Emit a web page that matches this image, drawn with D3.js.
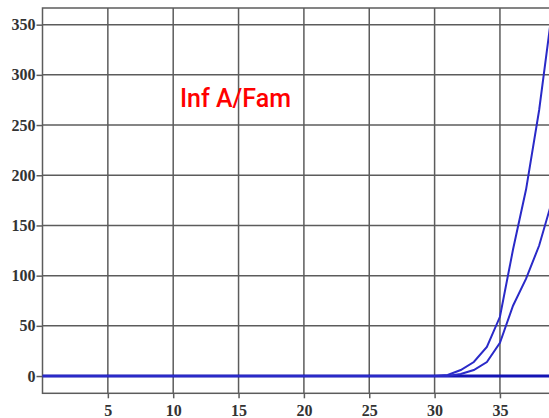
<!DOCTYPE html>
<html>
<head>
<meta charset="utf-8">
<script src="https://cdn.jsdelivr.net/npm/d3@7/dist/d3.min.js"></script>
<style>
  html, body { margin: 0; padding: 0; background: #fff; }
  svg { display: block; }
</style>
</head>
<body>
<div id="chart"></div>
<script>
// ---- data ----
const cycles = [0, 5, 10, 15, 20, 25, 30, 31, 32, 33, 34, 35, 36, 37, 38, 39, 40];
const seriesA = [0, 0, 0, 0, 0, 0, 0, 1, 6, 14, 29, 59, 126, 186, 265, 365, 470];
const seriesB = [0, 0, 0, 0, 0, 0, 0, 0, 2, 6, 14, 33, 70, 97, 130, 175, 225];
const baseline = [0, 0, 0, 0, 0, 0, 0, 0, 0, 0, 0, 0, 0, 0, 0, 0, 0];
const xTicks = [5, 10, 15, 20, 25, 30, 35];
const yTicks = [0, 50, 100, 150, 200, 250, 300, 350];
const titleText = "Inf A/Fam";

// ---- layout ----
const W = 549, H = 418;
const svg = d3.select("#chart").append("svg").attr("width", W).attr("height", H);

const x = d3.scaleLinear().domain([0, 40]).range([42.5, 565.3]);
const y = d3.scaleLinear().domain([-17.2, 366.6]).range([393.3, 8]);

const pL = x(0), pR = x(40), pT = y(366.6), pB = y(-17.2);
const gridColor = "#5c5c5c";

// clip
svg.append("defs").append("clipPath").attr("id", "clip")
  .append("rect").attr("x", pL).attr("y", pT).attr("width", pR - pL).attr("height", pB - pT);

// grid
const grid = svg.append("g");
grid.selectAll("line.h").data(yTicks).join("line")
  .attr("x1", pL).attr("x2", pR)
  .attr("y1", d => y(d)).attr("y2", d => y(d))
  .attr("stroke", gridColor).attr("stroke-width", 1.5);
grid.selectAll("line.v").data(xTicks).join("line")
  .attr("x1", d => x(d)).attr("x2", d => x(d))
  .attr("y1", pT).attr("y2", pB)
  .attr("stroke", gridColor).attr("stroke-width", 1.5);
// frame
svg.append("rect").attr("x", pL).attr("y", pT).attr("width", pR - pL).attr("height", pB - pT)
  .attr("fill", "none").attr("stroke", gridColor).attr("stroke-width", 1.5);

// axes
const yAxis = svg.append("g").attr("transform", `translate(${pL},0)`)
  .call(d3.axisLeft(y).tickValues(yTicks).tickSize(6).tickPadding(1).tickFormat(d3.format("d")));
const xAxis = svg.append("g").attr("transform", `translate(0,${pB})`)
  .call(d3.axisBottom(x).tickValues(xTicks).tickSize(5).tickPadding(6).tickFormat(d3.format("d")));
[yAxis, xAxis].forEach(a => {
  a.attr("font-family", "'Liberation Serif', 'DejaVu Serif', serif").attr("font-size", 16);
  a.select(".domain").remove();
  a.selectAll(".tick line").attr("stroke", gridColor).attr("stroke-width", 1.5);
  a.selectAll(".tick text").attr("fill", "#333")
    .attr("font-family", "'Liberation Serif', 'DejaVu Serif', serif")
    .attr("font-size", 16).attr("font-weight", "bold");
});

// lines
const line = d3.line().x((d, i) => x(cycles[i])).y(d => y(d));
const plot = svg.append("g").attr("clip-path", "url(#clip)");
plot.append("path").datum(baseline).attr("d", line)
  .attr("fill", "none").attr("stroke", "#1414b4").attr("stroke-width", 3);
plot.append("path").datum(seriesB).attr("d", line)
  .attr("fill", "none").attr("stroke", "#2a2ac8").attr("stroke-width", 2);
plot.append("path").datum(seriesA).attr("d", line)
  .attr("fill", "none").attr("stroke", "#2a2ac8").attr("stroke-width", 2);

// title
svg.append("text").attr("x", 180).attr("y", 107)
  .style("font-family", "Roboto, sans-serif").style("font-size", "25px").style("font-weight", "500")
  .attr("fill", "#ff0000").text(titleText);
</script>
</body>
</html>
